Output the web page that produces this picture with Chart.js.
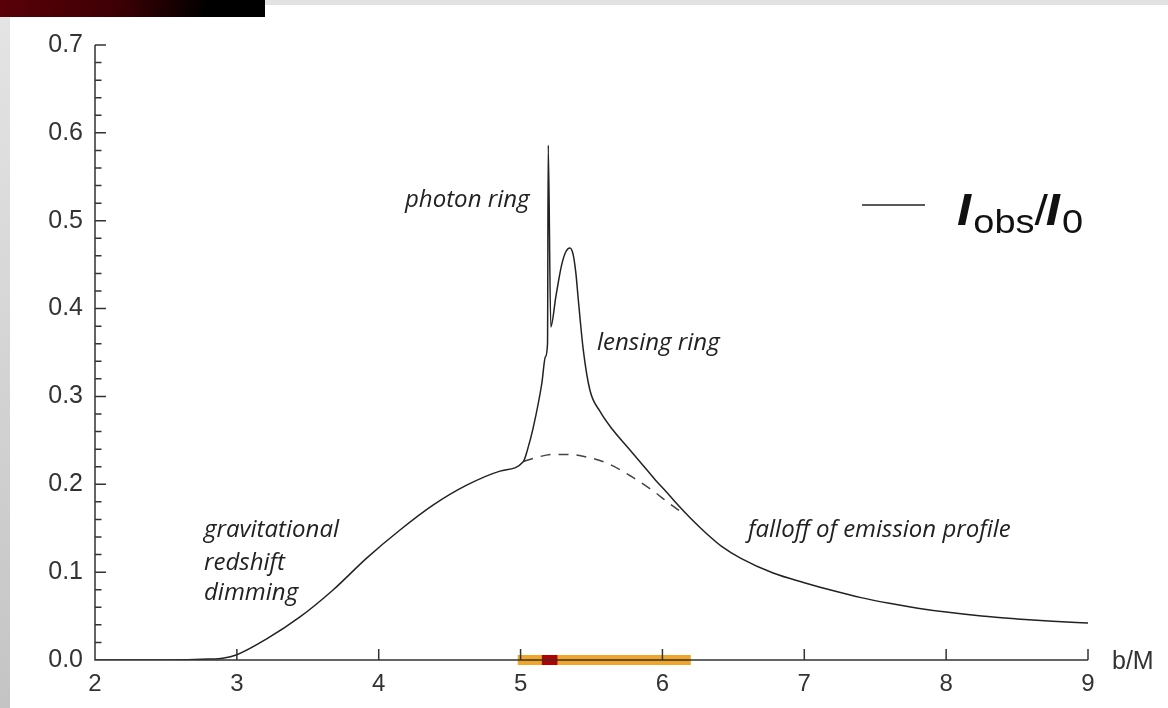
<!DOCTYPE html>
<html>
<head>
<meta charset="utf-8">
<script src="https://cdn.jsdelivr.net/npm/chart.js@4"></script>
<style>
  html, body { margin: 0; padding: 0; background: #fff; width: 1168px; height: 708px; overflow: hidden; }
  #topRed { position: absolute; left: 0; top: 0; width: 265px; height: 17px;
    background: linear-gradient(100deg, #5a0008 0%, #3c0004 45%, #000 78%); }
  #topGray { position: absolute; left: 265px; top: 0; width: 903px; height: 5px; background: #e2e2e2; }
  #leftGray { position: absolute; left: 0; top: 17px; width: 10px; height: 691px;
    background: linear-gradient(180deg, #e4e4e4, #c4c4c4); }
  #chart { position: absolute; left: 0; top: 0; }
</style>
</head>
<body>
<div id="topRed"></div>
<div id="topGray"></div>
<div id="leftGray"></div>
<canvas id="chart" width="1168" height="708"></canvas>
<script>
// 곡선 데이터 (b/M, I_obs/I_0)
const bSolid = [2.0, 2.5, 2.8, 2.9, 3.0, 3.21, 3.445, 3.68, 3.915, 4.15, 4.38, 4.62, 4.855, 5.02,
  5.05, 5.09, 5.15, 5.175, 5.19, 5.195, 5.213, 5.25, 5.29, 5.32, 5.348, 5.37, 5.39, 5.407, 5.442,
  5.489, 5.56, 5.65, 5.75, 5.84, 5.95, 6.03, 6.1, 6.2, 6.31, 6.42, 6.55, 6.78, 7.0, 7.2, 7.4, 7.6,
  7.8, 8.0, 8.25, 8.5, 8.75, 9.0];
const iSolid = [0, 0, 0.001, 0.002, 0.006, 0.024, 0.049, 0.080, 0.116, 0.148, 0.176, 0.199, 0.215, 0.226,
  0.240, 0.265, 0.315, 0.345, 0.36, 0.586, 0.379, 0.415, 0.45, 0.465, 0.469, 0.462, 0.44, 0.41, 0.353,
  0.307, 0.283, 0.262, 0.243, 0.226, 0.205, 0.191, 0.178, 0.161, 0.144, 0.129, 0.116, 0.099, 0.088,
  0.079, 0.071, 0.0645, 0.059, 0.0545, 0.050, 0.0468, 0.0442, 0.042];

// 렌즈 효과 없는 방출 프로파일 (점선)
const bDashed = [5.02, 5.1, 5.23, 5.35, 5.44, 5.61, 5.77, 5.93, 6.05, 6.12];
const iDashed = [0.226, 0.230, 0.234, 0.234, 0.232, 0.224, 0.210, 0.193, 0.178, 0.170];

// x축 위의 구간 표시
const bandOrange = [4.98, 6.2];
const bandRed = [5.15, 5.26];

const xTicks = [2, 3, 4, 5, 6, 7, 8, 9];
const yTicks = [0, 0.1, 0.2, 0.3, 0.4, 0.5, 0.6, 0.7];

const toPoints = (xs, ys) => xs.map((x, i) => ({ x: x, y: ys[i] }));

// 축과 눈금은 안쪽으로 그린다
const axisPlugin = {
  id: 'axisPlugin',
  afterDatasetsDraw(chart) {
    const ctx = chart.ctx;
    const xs = chart.scales.x, ys = chart.scales.y;
    const x0 = xs.getPixelForValue(2), x1 = xs.getPixelForValue(9);
    const y0 = ys.getPixelForValue(0), y1 = ys.getPixelForValue(0.7);
    ctx.save();
    ctx.strokeStyle = '#333';
    ctx.lineWidth = 1.5;
    ctx.beginPath();
    ctx.moveTo(x0, y1); ctx.lineTo(x0, y0); ctx.lineTo(x1, y0);
    for (let i = 0; i <= 35; i++) {
      const py = ys.getPixelForValue(i * 0.02);
      ctx.moveTo(x0, py);
      ctx.lineTo(x0 + (i % 5 === 0 ? 11 : 6.5), py);
    }
    xTicks.forEach(v => {
      const px = xs.getPixelForValue(v);
      ctx.moveTo(px, y0);
      ctx.lineTo(px, y0 - 11);
    });
    ctx.stroke();

    // 축 이름
    ctx.fillStyle = '#333';
    ctx.font = '25px "Liberation Sans", Arial, sans-serif';
    ctx.textBaseline = 'middle';
    ctx.textAlign = 'left';
    ctx.fillText('b/M', x1 + 24, y0 + 2);

    // 주석
    ctx.fillStyle = '#222';
    ctx.font = 'italic 24px "Open Sans", sans-serif';
    ctx.textBaseline = 'alphabetic';
    ctx.fillText('photon ring', 405, 207);
    ctx.fillText('lensing ring', 597, 350);
    ctx.fillText('gravitational', 204, 537);
    ctx.fillText('redshift', 204, 570);
    ctx.fillText('dimming', 204, 600);
    ctx.fillText('falloff of emission profile', 748, 537);

    // 범례
    ctx.strokeStyle = '#222';
    ctx.lineWidth = 1.3;
    ctx.beginPath();
    ctx.moveTo(862, 205); ctx.lineTo(925, 205);
    ctx.stroke();
    ctx.fillStyle = '#111';
    ctx.translate(957, 0);
    ctx.scale(1.15, 1);
    let lx = 0;
    ctx.font = 'italic bold 44px "Liberation Sans", Arial, sans-serif';
    ctx.fillText('I', lx, 225); lx += ctx.measureText('I').width + 2;
    ctx.font = '33px "Liberation Sans", Arial, sans-serif';
    ctx.fillText('obs', lx, 233); lx += ctx.measureText('obs').width;
    ctx.font = '42px "Liberation Sans", Arial, sans-serif';
    ctx.fillText('/', lx, 225); lx += ctx.measureText('/').width - 2;
    ctx.font = 'italic bold 44px "Liberation Sans", Arial, sans-serif';
    ctx.fillText('I', lx, 225); lx += ctx.measureText('I').width + 2;
    ctx.font = '33px "Liberation Sans", Arial, sans-serif';
    ctx.fillText('0', lx, 233);
    ctx.restore();
  }
};

const chartArea = document.getElementById('chart').getContext('2d');
const myChart = new Chart(chartArea, {
  type: 'scatter',
  data: {
    datasets: [
      {
        label: 'I_obs/I_0',
        data: toPoints(bSolid, iSolid),
        showLine: true,
        borderColor: '#222',
        borderWidth: 1.5,
        cubicInterpolationMode: 'monotone',
        pointRadius: 0,
        order: 0
      },
      {
        label: 'dashed',
        data: toPoints(bDashed, iDashed),
        showLine: true,
        borderColor: '#444',
        borderWidth: 1.5,
        borderDash: [10, 8],
        cubicInterpolationMode: 'monotone',
        pointRadius: 0,
        order: 1
      },
      {
        label: 'red band',
        data: toPoints(bandRed, [0, 0]),
        showLine: true,
        borderColor: '#b30000',
        borderWidth: 10,
        borderCapStyle: 'butt',
        pointRadius: 0,
        clip: false,
        order: 2
      },
      {
        label: 'orange band',
        data: toPoints(bandOrange, [0, 0]),
        showLine: true,
        borderColor: 'rgba(240, 160, 30, 0.95)',
        borderWidth: 10,
        borderCapStyle: 'butt',
        pointRadius: 0,
        clip: false,
        order: 3
      }
    ]
  },
  options: {
    responsive: false,
    animation: false,
    layout: { padding: { left: 0, top: 45, right: 80, bottom: 0 } },
    plugins: { legend: { display: false }, tooltip: { enabled: false } },
    scales: {
      x: {
        type: 'linear',
        min: 2, max: 9,
        afterFit: s => { s.height = 48; },
        afterBuildTicks: s => { s.ticks = xTicks.map(v => ({ value: v })); },
        grid: { display: false },
        border: { display: false },
        ticks: {
          color: '#333',
          font: { family: '"Liberation Sans", Arial, sans-serif', size: 24 },
          padding: 2,
          maxRotation: 0,
          callback: v => String(v)
        }
      },
      y: {
        min: 0, max: 0.7,
        afterFit: s => { s.width = 95; },
        afterBuildTicks: s => { s.ticks = yTicks.map(v => ({ value: v })); },
        grid: { display: false },
        border: { display: false },
        ticks: {
          color: '#333',
          font: { family: '"Liberation Sans", Arial, sans-serif', size: 25 },
          padding: 4,
          callback: v => v.toFixed(1)
        }
      }
    }
  },
  plugins: [axisPlugin]
});
</script>
</body>
</html>
